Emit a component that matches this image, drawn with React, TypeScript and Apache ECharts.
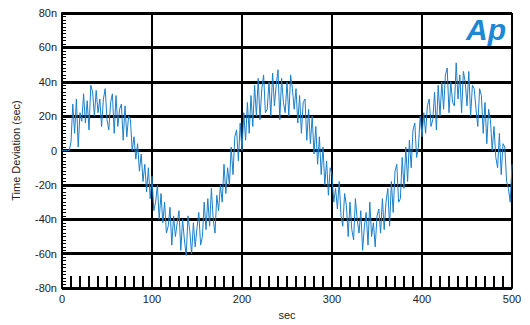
import React, { useEffect, useRef } from "react";
import * as echarts from "echarts";

const xStart = 0;
const xStep = 2;
const yValues: number[] = [
  0, 0, 0, 0, 0, 5, 27, 10, 30, 2,
  22, 17, 33, 16, 29, 12, 38, 34, 20, 35,
  22, 30, 14, 30, 36, 18, 12, 28, 33, 10,
  32, 14, 24, 27, 6, 26, 8, 20, 18, 0,
  8, -5, 4, -12, -2, -18, -8, -24, -10, -28,
  -15, -35, -30, -20, -40, -25, -42, -30, -48, -44,
  -33, -55, -38, -50, -42, -35, -58, -40, -52, -61,
  -38, -47, -60, -42, -56, -45, -36, -55, -50, -30,
  -46, -28, -44, -22, -40, -48, -26, -35, -20, -30,
  -8, -25, -10, -20, 2, -14, 8, 12, -6, 16,
  0, 22, 6, 28, 10, 32, 14, 38, 20, 42,
  18, 36, 44, 22, 24, 40, 20, 45, 26, 38,
  47, 18, 42, 28, 22, 40, 20, 44, 36, 24,
  36, 16, 32, 10, 28, 30, 6, 24, 4, 20,
  -2, 14, -8, 8, -14, 2, -20, -6, -26, -10,
  -14, -30, -22, -34, -18, -38, -44, -25, -32, -50,
  -30, -46, -52, -28, -40, -48, -35, -58, -44, -36,
  -55, -30, -50, -42, -56, -38, -34, -48, -28, -46,
  -30, -22, -44, -18, -36, -12, -8, -30, -28, -4,
  -22, 2, -18, 6, -10, 12, 16, -4, 2, 20,
  8, 22, 10, 26, 30, 14, 18, 34, 12, 38,
  20, 40, 24, 44, 48, 22, 40, 28, 26, 51,
  30, 44, 22, 46, 40, 26, 46, 20, 38, 36,
  24, 14, 36, 32, 10, 28, 4, 24, 18, 0,
  14, -4, -10, 10, -14, 4, 2, -18, -22, -30,
  -8,
];
const xTicks = [0, 100, 200, 300, 400, 500];
const yTicks = [-80, -60, -40, -20, 0, 20, 40, 60, 80];

export default function App() {
  const ref = useRef<HTMLDivElement>(null);
  useEffect(() => {
    if (!ref.current) return;
    const chart = echarts.init(ref.current, undefined, { renderer: "svg" });
    const data = yValues.map((v, i) => [xStart + i * xStep, v]);
    const font = "'Liberation Sans', Arial, sans-serif";
    chart.setOption({
      animation: false,
      backgroundColor: "#ffffff",
      grid: { left: 62, right: 18, top: 13, bottom: 35 },
      xAxis: {
        type: "value",
        min: xTicks[0],
        max: xTicks[xTicks.length - 1],
        interval: 100,
        name: "sec",
        nameLocation: "middle",
        nameGap: 20,
        nameTextStyle: { fontFamily: font, fontSize: 11, color: "#222" },
        axisLine: { show: true, onZero: false, lineStyle: { color: "#000", width: 2 } },
        axisTick: { show: false },
        minorTick: { show: true, splitNumber: 10, length: -12, lineStyle: { color: "#000", width: 2 } },
        axisLabel: { fontFamily: font, fontSize: 11, color: "#222", margin: 5 },
        splitLine: { show: true, lineStyle: { color: "#000", width: 2 } },
      },
      yAxis: {
        type: "value",
        min: yTicks[0],
        max: yTicks[yTicks.length - 1],
        interval: 20,
        name: "Time Deviation (sec)",
        nameLocation: "middle",
        nameGap: 41,
        nameTextStyle: { fontFamily: font, fontSize: 11, color: "#222" },
        axisLine: { show: true, onZero: false, lineStyle: { color: "#000", width: 2 } },
        axisTick: { show: false },
        minorTick: { show: true, splitNumber: 10, length: -4, lineStyle: { color: "#000", width: 1 } },
        axisLabel: {
          fontFamily: font,
          fontSize: 11,
          color: "#222",
          margin: 5,
          formatter: (v: number) => (v === 0 ? "0" : `${v}n`),
        },
        splitLine: { show: true, lineStyle: { color: "#000", width: 3 } },
      },
      graphic: [
        {
          type: "text",
          right: 24,
          top: 14,
          style: {
            text: "Ap",
            fontFamily: font,
            fontSize: 30,
            fontWeight: "bold",
            fontStyle: "italic",
            fill: "#1E88D2",
          },
        },
      ],
      series: [
        {
          type: "line",
          data,
          showSymbol: false,
          symbol: "none",
          lineStyle: { color: "#1A7FC9", width: 1 },
          z: 5,
        },
      ],
    });
    return () => chart.dispose();
  }, []);
  return <div ref={ref} style={{ width: 530, height: 325, position: "absolute", left: 0, top: 0 }} />;
}
